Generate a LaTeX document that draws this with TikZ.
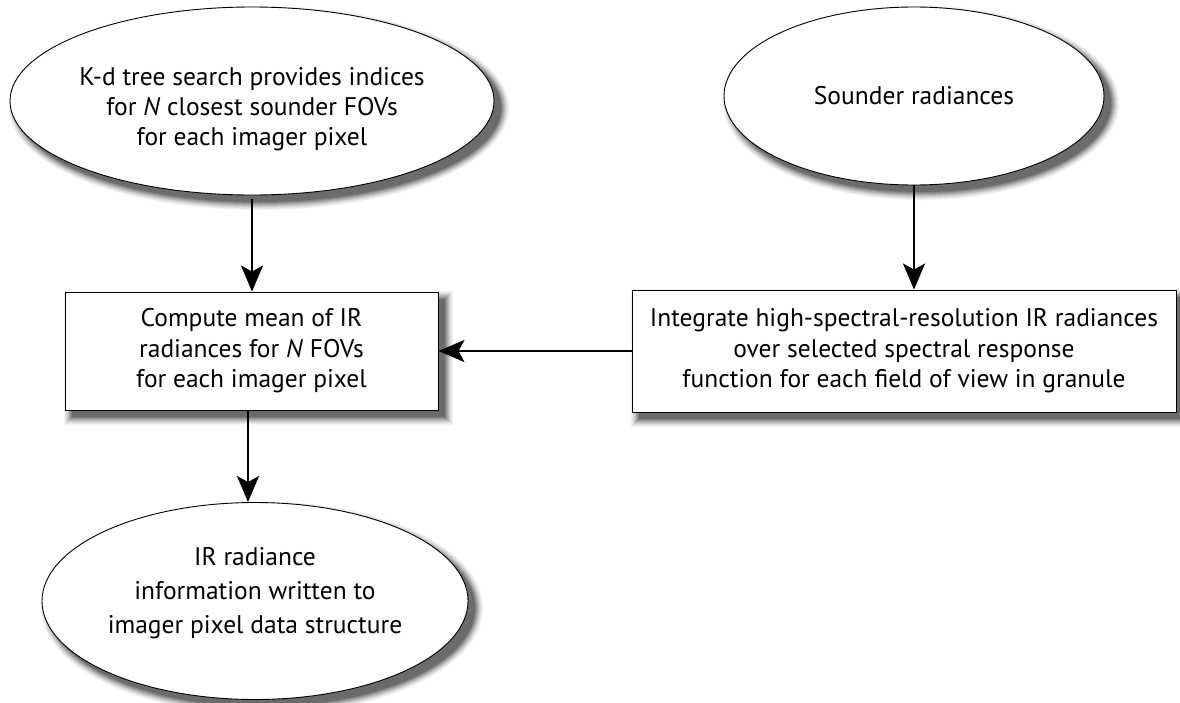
\documentclass[tikz,border=0pt]{standalone}
\usepackage{fontspec}
\setmainfont{PT Sans}
\usetikzlibrary{shapes.geometric,arrows.meta}
\newcommand\mkshadow[5]{%
  \foreach \k/\c in {16/5,14/9,12/14,10/20,8/27,6/34,4/42,2/50,0/58}{%
    \node[#1, draw=none, fill=black!\c, inner sep=0pt,
      minimum width=#4pt+\k pt, minimum height=#5pt+\k pt] at (#2+7,#3+7) {};}}
\begin{document}
\begin{tikzpicture}[x=1pt,y=-1pt,
  txt/.style={font=\fontsize{25.5}{30}\selectfont, align=center, inner sep=0pt},
  ell/.style={ellipse, draw=black, line width=0.9pt, fill=white, inner sep=0pt},
  boxx/.style={rectangle, draw=black, line width=0.9pt, fill=white, inner sep=0pt,
    font=\fontsize{25.5}{30.5}\selectfont, align=center},
  conn/.style={line width=2.5pt, -{Stealth[length=26pt,width=22pt,inset=6pt]}}]
\useasboundingbox (0,0) rectangle (1180,702);
% shadows
\mkshadow{ellipse}{252}{101}{484}{188}
\mkshadow{ellipse}{914}{96}{380}{178}
\mkshadow{rectangle}{251.5}{351}{373}{118}
\mkshadow{rectangle}{904}{351}{544}{122}
\mkshadow{ellipse}{255}{601}{426}{197}
% shapes
\node[ell, minimum width=484pt, minimum height=188pt] (kd) at (252,101) {};
\node[txt] (kdt) at (252,109)
  {K-d tree search provides indices\\for \textit{N} closest sounder FOVs\\for each imager pixel};
\node[ell, minimum width=380pt, minimum height=178pt] (snd) at (914,96) {};
\node[txt] (sndt) at (914,96) {Sounder radiances};
\node[boxx, minimum width=373pt, minimum height=118pt] (mean) at (251.5,351)
  {Compute mean of IR\\radiances for \textit{N} FOVs\\for each imager pixel};
\node[boxx, minimum width=544pt, minimum height=122pt] (integ) at (904,351)
  {Integrate high-spectral-resolution IR radiances\\over selected spectral response\\function for each field of view in granule};
\node[ell, minimum width=426pt, minimum height=197pt] (out) at (255,601) {};
\node[txt, font=\fontsize{25.5}{34}\selectfont] (outt) at (255,593)
  {IR radiance\\information written to\\imager pixel data structure};
% connectors
\coordinate (a4) at (248,0);
\draw[conn, shorten <=4pt] (kd.south) -- (mean.north -| kd.south);
\draw[conn] (snd.south) -- (integ.north -| snd.south);
\draw[conn] (integ.west) -- (mean.east);
\draw[conn] (mean.south -| a4) -- (out.north -| a4);
\end{tikzpicture}
\end{document}
